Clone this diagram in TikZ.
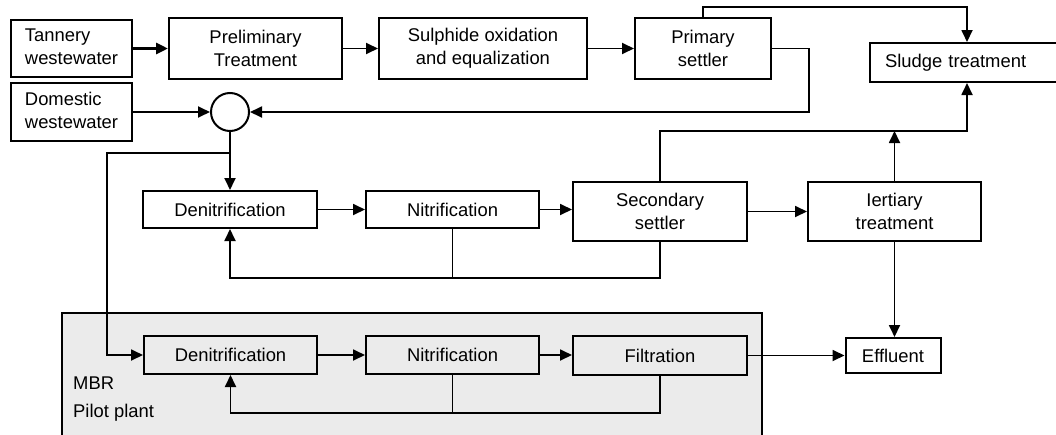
\documentclass[tikz,border=0pt]{standalone}
\usepackage{fontspec}
\setmainfont{Liberation Sans}
\usetikzlibrary{arrows.meta}
\definecolor{mbrgray}{HTML}{EBEBEB}
\begin{document}
\begin{tikzpicture}[x=1pt,y=-1pt,
  box/.style={draw=black, line width=2pt, fill=white, inner sep=0pt, align=center,
    font=\fontsize{18.4}{23}\selectfont},
  mbox/.style={box, fill=mbrgray},
  conn/.style={line width=1.8pt, draw=black},
  arr/.style={conn, -{Triangle[length=12pt,width=11pt]}},
  thickarr/.style={line width=3pt, -{Triangle[length=12pt,width=11pt]}},
]
\useasboundingbox (0,0) rectangle (1056,434);
\fill[white] (0,0) rectangle (1056,434);

% MBR pilot plant area
\fill[mbrgray] (62,313) rectangle (762,440);
\draw[line width=2pt] (62,440) -- (62,313) -- (762,313) -- (762,440);
\node[anchor=west, align=left, inner sep=0pt, font=\fontsize{18.4}{28}\selectfont] (mbrlabel) at (73,399) {MBR\\Pilot plant};

% top row
\node[box, minimum width=121pt, minimum height=57pt] (tan) at (71.5,48.5) {\begin{tabular}{@{}l@{}}Tannery\\westewater\end{tabular}};
\node[box, minimum width=121pt, minimum height=58pt] (dom) at (71.5,112) {\begin{tabular}{@{}l@{}}Domestic\\westewater\end{tabular}};
\node[box, minimum width=173pt, minimum height=61pt] (pre) at (255.5,48.5) {Preliminary\\Treatment};
\node[box, minimum width=208pt, minimum height=61pt] (sul) at (483,48.5) {Sulphide oxidation\\and equalization};
\node[box, minimum width=136pt, minimum height=61pt] (pri) at (703,48.5) {Primary\\settler};
\node[box, anchor=west, minimum height=39pt, text width=159pt, align=left, inner xsep=15pt] (slu) at (869,62.5) {Sludge treatment};
\node[draw=black, line width=2pt, circle, fill=white, minimum size=38pt, inner sep=0pt] (mix) at (230,112) {};

% middle row
\node[box, minimum width=174pt, minimum height=37pt] (den1) at (230,209.5) {Denitrification};
\node[box, minimum width=173pt, minimum height=37pt] (nit1) at (452.5,209.5) {Nitrification};
\node[box, minimum width=174pt, minimum height=59pt] (sec) at (660,211.5) {Secondary\\settler};
\node[box, minimum width=173pt, minimum height=59pt] (ter) at (894.5,211.5) {Iertiary\\treatment};

% MBR row
\node[mbox, minimum width=173pt, minimum height=38pt] (den2) at (230.5,355) {Denitrification};
\node[mbox, minimum width=173pt, minimum height=38pt] (nit2) at (452.5,355) {Nitrification};
\node[mbox, minimum width=174pt, minimum height=39pt] (fil) at (660,355.5) {Filtration};
\node[box, minimum width=95pt, minimum height=35pt] (eff) at (893,355.5) {Effluent};

\coordinate (br) at (230,153);
\coordinate (sl) at (967,0);

% connectors top
\draw[thickarr] (tan.east) -- (pre.west);
\draw[arr] (pre.east) -- (sul.west);
\draw[arr] (sul.east) -- (pri.west);
\draw[arr] (pri.north) -- ++(0,-10) -| (sl |- slu.north);
\draw[arr] (pri.east) -- ++(37,0) |- (mix.east);
\draw[arr] (dom.east) -- (mix.west);
\draw[arr] (mix.south) -- (den1.north);
\draw[arr] (br) -- (107,153) |- (den2.west);

% connectors middle
\draw[arr] (den1.east) -- (den1.east -| nit1.west);
\draw[arr] (nit1.east) -- (nit1.east -| sec.west);
\draw[arr] (sec.east) -- (sec.east -| ter.west);
\draw[arr] (sec.south) -- ++(0,36) -| (den1.south);
\draw[conn] (nit1.south) -- ++(0,48.5);
\draw[arr] (sec.north) -- ++(0,-50) -| (sl |- slu.south);
\draw[arr] (ter.north) -- ++(0,-50);
\draw[arr] (ter.south) -- (ter.south |- eff.north);

% connectors MBR
\draw[arr] (den2.east) -- (den2.east -| nit2.west);
\draw[arr] (nit2.east) -- (nit2.east -| fil.west);
\draw[arr] (fil.east) -- (fil.east -| eff.west);
\draw[arr] (fil.south) -- ++(0,37) -| (den2.south);
\draw[conn] (nit2.south) -- ++(0,38);
\end{tikzpicture}
\end{document}
